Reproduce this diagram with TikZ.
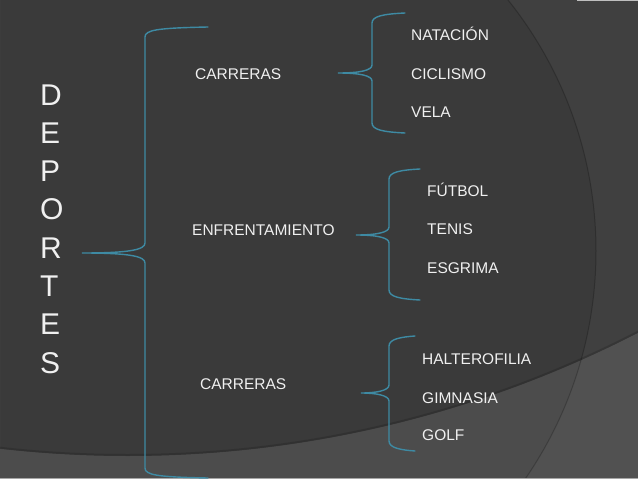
\documentclass[tikz,border=0pt]{standalone}
\usepackage{fontspec}
\setmainfont{Liberation Sans}
\definecolor{bgbase}{RGB}{58,58,58}
\definecolor{bgright}{RGB}{64,64,64}
\definecolor{bracecol}{RGB}{62,138,163}
\definecolor{txt}{RGB}{240,240,240}
\tikzset{
  bracestyle/.style={draw=bracecol, line width=1.4pt, line cap=round},
  lbl/.style={anchor=base west, inner sep=0pt, text=txt, font=\fontsize{15.5}{18}\selectfont},
  letter/.style={anchor=base west, inner sep=0pt, text=txt, font=\fontsize{30}{36}\selectfont}
}
% #1 arm end x, #2 vertical x, #3 tip x, #4 top y, #5 middle y, #6 bottom y, #7 bend
\newcommand{\mybrace}[7]{%
  \draw[bracestyle] (#1,#4) .. controls (#2+12,#4+1) and (#2,#4+3) .. (#2,#4+10)
    -- (#2,#5-#7) .. controls (#2,#5-#7/3) and (#2-#7*1.5,#5) .. (#3,#5)
    .. controls (#2-#7*1.5,#5) and (#2,#5+#7/3) .. (#2,#5+#7)
    -- (#2,#6-10) .. controls (#2,#6-3) and (#2+12,#6-1) .. (#1,#6);}
\begin{document}
\begin{tikzpicture}[x=1pt,y=-1pt]
\useasboundingbox (0,0) rectangle (638,479);
% background
\fill[bgbase] (0,0) rectangle (638,479);
\begin{scope}
  \clip (0,0) rectangle (638,479);
  \fill[bgright, even odd rule] (0,0) rectangle (638,479) (194,251) circle[radius=402];
  \fill[white, opacity=0.095, even odd rule] (0,0) rectangle (638,479) (127.7,-661) circle[radius=1117];
  \draw[black, opacity=0.22, line width=1pt] (194,251) circle[radius=402];
  \draw[black, opacity=0.15, line width=2pt] (127.7,-661) circle[radius=1116];
  \draw[gray!70, line width=1.5pt] (0,478.5) -- (638,478.5);
  \draw[gray!50, line width=1pt] (577,0.5) -- (638,0.5);
\end{scope}
% DEPORTES
\foreach \l [count=\i] in {D,E,P,O,R,T,E,S}
  \node[letter] (L\i) at (40,{105+38.3*(\i-1)}) {\l};
% braces
\mybrace{208}{145}{82}{27}{253}{478}{10}
\mybrace{405}{372}{338}{13}{73}{133}{8}
\mybrace{420}{389}{356}{169}{235}{300}{8}
\mybrace{415}{389}{361}{336}{393}{451}{8}
% labels
\node[lbl] (car1) at (195,79) {CARRERAS};
\node[lbl] (enf) at (192,235) {ENFRENTAMIENTO};
\node[lbl] (car2) at (200,389) {CARRERAS};
\node[lbl] (nat) at (411,41) {NATACIÓN};
\node[lbl] (cic) at (411,79) {CICLISMO};
\node[lbl] (vel) at (411,117) {VELA};
\node[lbl] (fut) at (427,196) {FÚTBOL};
\node[lbl] (ten) at (427,234) {TENIS};
\node[lbl] (esg) at (427,273) {ESGRIMA};
\node[lbl] (hal) at (422,364) {HALTEROFILIA};
\node[lbl] (gim) at (422,403) {GIMNASIA};
\node[lbl] (gol) at (422,440) {GOLF};
\end{tikzpicture}
\end{document}
